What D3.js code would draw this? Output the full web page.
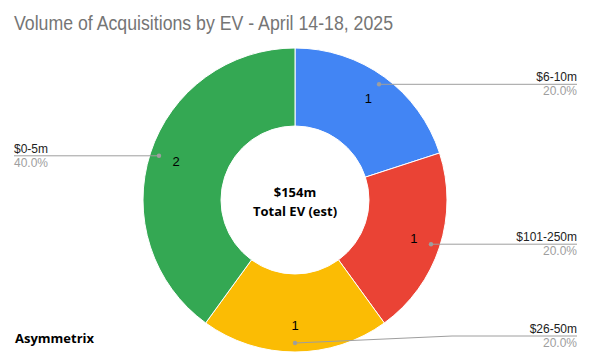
<!DOCTYPE html>
<html>
<head>
<meta charset="utf-8">
<script src="https://cdn.jsdelivr.net/npm/d3@7"></script>
<style>
  body { margin: 0; background: #fff; }
  svg { display: block; }
</style>
</head>
<body>
<div id="chart"></div>
<script>
const categories = ['$6-10m', '$101-250m', '$26-50m', '$0-5m'];
const counts = [1, 1, 1, 2];
const colors = ['#4285f4', '#ea4335', '#fbbc04', '#34a853'];

const width = 591, height = 364;
const cx = 295, cy = 200;
const outerR = 152, innerR = 74;

const svg = d3.select('#chart').append('svg')
  .attr('width', width)
  .attr('height', height);

svg.append('text')
  .attr('x', 14).attr('y', 30)
  .attr('font-family', 'Liberation Sans, Arial, sans-serif')
  .attr('font-size', 20)
  .attr('fill', '#757575')
  .attr('textLength', 379)
  .attr('lengthAdjust', 'spacingAndGlyphs')
  .text('Volume of Acquisitions by EV - April 14-18, 2025');

const total = d3.sum(counts);
const pie = d3.pie().sort(null).value(d => d.v);
const arcs = pie(categories.map((c, i) => ({ c, v: counts[i], color: colors[i] })));

const arc = d3.arc().innerRadius(innerR).outerRadius(outerR);
const labelArc = d3.arc().innerRadius(125).outerRadius(125);
const dotArc = d3.arc().innerRadius(143).outerRadius(143);

const g = svg.append('g').attr('transform', `translate(${cx},${cy})`);

g.selectAll('path.slice')
  .data(arcs)
  .enter().append('path')
  .attr('class', 'slice')
  .attr('d', arc)
  .attr('fill', d => d.data.color)
  .attr('stroke', '#fff')
  .attr('stroke-width', 1);

g.selectAll('text.num')
  .data(arcs)
  .enter().append('text')
  .attr('class', 'num')
  .attr('transform', d => `translate(${labelArc.centroid(d)})`)
  .attr('text-anchor', 'middle')
  .attr('dy', '0.35em')
  .attr('font-family', 'Liberation Sans, Arial, sans-serif')
  .attr('font-size', 13)
  .attr('fill', '#000')
  .text(d => d.data.v);

// leader lines
const lines = svg.append('g');
arcs.forEach(d => {
  const [dx, dy] = dotArc.centroid(d);
  const px = cx + dx, py = cy + dy;
  const right = dx > 0;
  const ly = Math.min(py, 336);
  const elbowX = right ? cx + 157 : cx - 157;
  const endX = right ? 577 : 14;
  lines.append('path')
    .attr('d', `M${px},${py}L${elbowX},${ly}L${endX},${ly}`)
    .attr('fill', 'none')
    .attr('stroke', '#9e9e9e')
    .attr('stroke-width', 1);
  lines.append('circle')
    .attr('cx', px).attr('cy', py).attr('r', 2.2)
    .attr('fill', '#9e9e9e');
  const anchor = right ? 'end' : 'start';
  lines.append('text')
    .attr('x', endX).attr('y', ly - 3)
    .attr('text-anchor', anchor)
    .attr('font-family', 'Liberation Sans, Arial, sans-serif')
    .attr('font-size', 12)
    .attr('fill', '#222')
    .text(d.data.c);
  lines.append('text')
    .attr('x', endX).attr('y', ly + 11)
    .attr('text-anchor', anchor)
    .attr('font-family', 'Liberation Sans, Arial, sans-serif')
    .attr('font-size', 12)
    .attr('fill', '#9e9e9e')
    .text(d3.format('.1%')(d.data.v / total));
});

// centre text
const centre = svg.append('g')
  .attr('font-family', 'Open Sans, sans-serif')
  .attr('font-weight', 'bold')
  .attr('font-size', 13)
  .attr('text-anchor', 'middle')
  .attr('fill', '#000');
centre.append('text').attr('x', cx).attr('y', 197).text('$154m');
centre.append('text').attr('x', cx).attr('y', 216).text('Total EV (est)');

svg.append('text')
  .attr('x', 15).attr('y', 343)
  .attr('font-family', 'Open Sans, sans-serif')
  .attr('font-weight', 'bold')
  .attr('font-size', 13)
  .attr('fill', '#000')
  .text('Asymmetrix');
</script>
</body>
</html>
